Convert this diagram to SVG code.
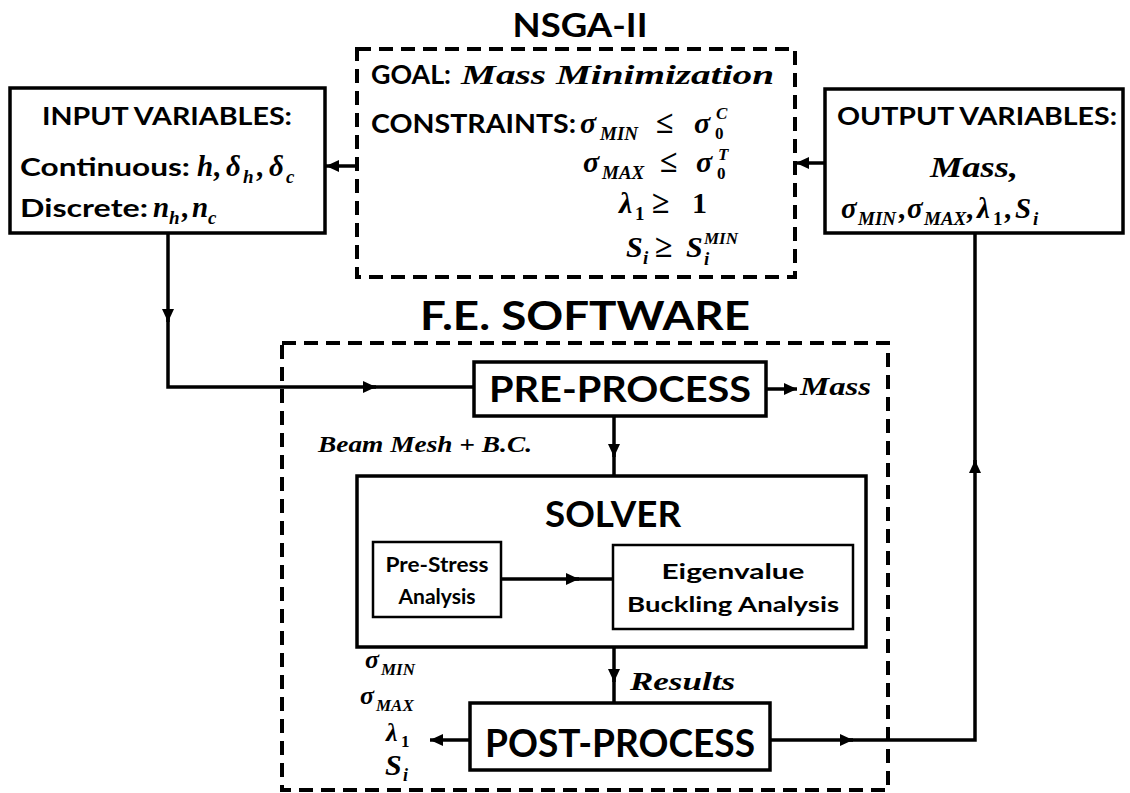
<svg xmlns="http://www.w3.org/2000/svg" width="1130" height="793" viewBox="0 0 1130 793">
<style>
.box{fill:#fff;stroke:#000;stroke-width:3.5}
.sbox{fill:#fff;stroke:#000;stroke-width:2.5}
.dash{fill:none;stroke:#000;stroke-width:4;stroke-dasharray:14 8}
.ln{fill:none;stroke:#000;stroke-width:3.5}
.h{font-family:Lato,"Open Sans",sans-serif;font-weight:bold;fill:#000}
.m{font-family:"Liberation Serif",serif;font-style:italic;font-weight:bold;fill:#000}
.u{font-style:normal}
.s{font-size:19px}
.t{font-size:17px}
</style>
<defs>
<marker id="ah" markerUnits="userSpaceOnUse" markerWidth="14" markerHeight="12" refX="13" refY="6" orient="auto">
<path d="M0,0 L13,6 L0,12 z" fill="#000"/>
</marker>
</defs>
<rect width="1130" height="793" fill="#fff"/>

<g id="nsga">
<text class="h" x="580" y="37" font-size="33" text-anchor="middle" textLength="135" lengthAdjust="spacingAndGlyphs">NSGA-II</text>
<rect class="dash" x="357" y="49" width="438" height="228"/>
<text class="h" x="371" y="84" font-size="26" textLength="80" lengthAdjust="spacingAndGlyphs">GOAL:</text>
<text class="m" x="461" y="84" font-size="28" textLength="313" lengthAdjust="spacingAndGlyphs">Mass Minimization</text>
<text class="h" x="371" y="133" font-size="26" textLength="205" lengthAdjust="spacingAndGlyphs">CONSTRAINTS:</text>
<text class="m" font-size="30"><tspan x="580" y="133">σ</tspan><tspan class="s" x="600" y="140">MIN</tspan><tspan class="u" x="656" y="133" font-size="32">≤</tspan><tspan x="694" y="133">σ</tspan><tspan class="t u" x="715" y="139">0</tspan><tspan class="t" x="716" y="119">C</tspan></text>
<text class="m" font-size="30"><tspan x="583" y="172">σ</tspan><tspan class="s" x="602" y="179">MAX</tspan><tspan class="u" x="660" y="172" font-size="32">≤</tspan><tspan x="696" y="172">σ</tspan><tspan class="t u" x="717" y="179">0</tspan><tspan class="t" x="718" y="160">T</tspan></text>
<text class="m" font-size="30"><tspan x="619" y="213">λ</tspan><tspan class="s u" x="635" y="220">1</tspan><tspan class="u" x="652" y="213" font-size="32">≥</tspan><tspan class="u" x="692" y="213">1</tspan></text>
<text class="m" font-size="30"><tspan x="626" y="257">S</tspan><tspan class="s" x="643" y="264">i</tspan><tspan class="u" x="655" y="257" font-size="32">≥</tspan><tspan x="686" y="257">S</tspan><tspan class="s" x="704" y="265">i</tspan><tspan class="t" x="704" y="244">MIN</tspan></text>
</g>

<g id="input">
<rect class="box" x="10" y="88" width="315" height="145"/>
<text class="h" x="167" y="125" font-size="24" text-anchor="middle" textLength="250" lengthAdjust="spacingAndGlyphs">INPUT VARIABLES:</text>
<text class="h" x="20" y="176" font-size="25" textLength="170" lengthAdjust="spacingAndGlyphs">Continuous:</text>
<text class="m" font-size="29"><tspan x="197" y="176">h</tspan><tspan class="u" x="213" y="176">,</tspan><tspan x="226" y="176">δ</tspan><tspan class="s" x="243" y="183">h</tspan><tspan class="u" x="256" y="176">,</tspan><tspan x="269" y="176">δ</tspan><tspan class="s" x="286" y="183">c</tspan></text>
<text class="h" x="20" y="217" font-size="25" textLength="128" lengthAdjust="spacingAndGlyphs">Discrete:</text>
<text class="m" font-size="29"><tspan x="153" y="217">n</tspan><tspan class="s" x="169" y="224">h</tspan><tspan class="u" x="181" y="217">,</tspan><tspan x="192" y="217">n</tspan><tspan class="s" x="208" y="224">c</tspan></text>
</g>

<g id="output">
<rect class="box" x="825" y="89" width="298" height="144"/>
<text class="h" x="977" y="125" font-size="24" text-anchor="middle" textLength="280" lengthAdjust="spacingAndGlyphs">OUTPUT VARIABLES:</text>
<text class="m" x="930" y="177" font-size="29" textLength="88" lengthAdjust="spacingAndGlyphs">Mass,</text>
<text class="m" font-size="29"><tspan x="841" y="218">σ</tspan><tspan class="s" x="858" y="225">MIN</tspan><tspan class="u" x="898" y="218">,</tspan><tspan x="907" y="218">σ</tspan><tspan class="s" x="924" y="225">MAX</tspan><tspan class="u" x="966" y="218">,</tspan><tspan x="977" y="218">λ</tspan><tspan class="s u" x="993" y="225">1</tspan><tspan class="u" x="1004" y="218">,</tspan><tspan x="1015" y="218">S</tspan><tspan class="s" x="1033" y="225">i</tspan></text>
</g>

<g id="fe">
<text class="h" x="585" y="330" font-size="41" text-anchor="middle" textLength="330" lengthAdjust="spacingAndGlyphs">F.E. SOFTWARE</text>
<rect class="dash" x="282" y="343" width="606" height="447"/>
</g>

<g id="preprocess">
<rect class="box" x="474" y="362" width="292" height="54"/>
<text class="h" x="620" y="402" font-size="37" text-anchor="middle" textLength="262" lengthAdjust="spacingAndGlyphs">PRE-PROCESS</text>
</g>

<g id="solver">
<rect class="box" x="357" y="476" width="509" height="171"/>
<text class="h" x="613" y="527" font-size="37" text-anchor="middle" textLength="136" lengthAdjust="spacingAndGlyphs">SOLVER</text>
</g>

<g id="prestress">
<rect class="sbox" x="373" y="542" width="128" height="75"/>
<text class="h" x="437" y="572" font-size="21" text-anchor="middle" textLength="103" lengthAdjust="spacingAndGlyphs">Pre-Stress</text>
<text class="h" x="437" y="604" font-size="21" text-anchor="middle" textLength="77" lengthAdjust="spacingAndGlyphs">Analysis</text>
</g>

<g id="eigen">
<rect class="sbox" x="613" y="545" width="240" height="84"/>
<text class="h" x="733" y="579" font-size="21" text-anchor="middle" textLength="143" lengthAdjust="spacingAndGlyphs">Eigenvalue</text>
<text class="h" x="733" y="612" font-size="21" text-anchor="middle" textLength="212" lengthAdjust="spacingAndGlyphs">Buckling Analysis</text>
</g>

<g id="postprocess">
<rect class="box" x="470" y="703" width="300" height="67"/>
<text class="h" x="620" y="757" font-size="38" text-anchor="middle" textLength="270" lengthAdjust="spacingAndGlyphs">POST-PROCESS</text>
</g>

<g id="labels">
<text class="m" x="800" y="395" font-size="25" textLength="71" lengthAdjust="spacingAndGlyphs">Mass</text>
<text class="m" x="318" y="452" font-size="23" textLength="214" lengthAdjust="spacingAndGlyphs">Beam Mesh +  B.C.</text>
<text class="m" x="630" y="690" font-size="25" textLength="105" lengthAdjust="spacingAndGlyphs">Results</text>
<text class="m" font-size="26"><tspan x="365" y="668">σ</tspan><tspan x="381" y="675" font-size="17">MIN</tspan></text>
<text class="m" font-size="26"><tspan x="360" y="704">σ</tspan><tspan x="376" y="711" font-size="17">MAX</tspan></text>
<text class="m" font-size="26"><tspan x="386" y="741">λ</tspan><tspan class="u" x="401" y="747" font-size="17">1</tspan></text>
<text class="m" font-size="30"><tspan x="385" y="775">S</tspan><tspan x="403" y="781" font-size="18">i</tspan></text>
</g>

<g id="connectors">
<path class="ln" d="M168,233 V322" marker-end="url(#ah)"/>
<path class="ln" d="M168,318 V387 H376" marker-end="url(#ah)"/>
<path class="ln" d="M372,387 H474"/>
<path class="ln" d="M766,389 H797" marker-end="url(#ah)"/>
<path class="ln" d="M614,416 V457" marker-end="url(#ah)"/>
<path class="ln" d="M614,453 V476"/>
<path class="ln" d="M501,579 H579" marker-end="url(#ah)"/>
<path class="ln" d="M575,579 H613"/>
<path class="ln" d="M614,647 V682" marker-end="url(#ah)"/>
<path class="ln" d="M614,678 V703"/>
<path class="ln" d="M470,740 H430" marker-end="url(#ah)"/>
<path class="ln" d="M770,740 H853" marker-end="url(#ah)"/>
<path class="ln" d="M849,740 H975 V460" marker-end="url(#ah)"/>
<path class="ln" d="M975,464 V233"/>
<path class="ln" d="M825,163 H796" marker-end="url(#ah)"/>
<path class="ln" d="M357,166 H326" marker-end="url(#ah)"/>
</g>
</svg>
